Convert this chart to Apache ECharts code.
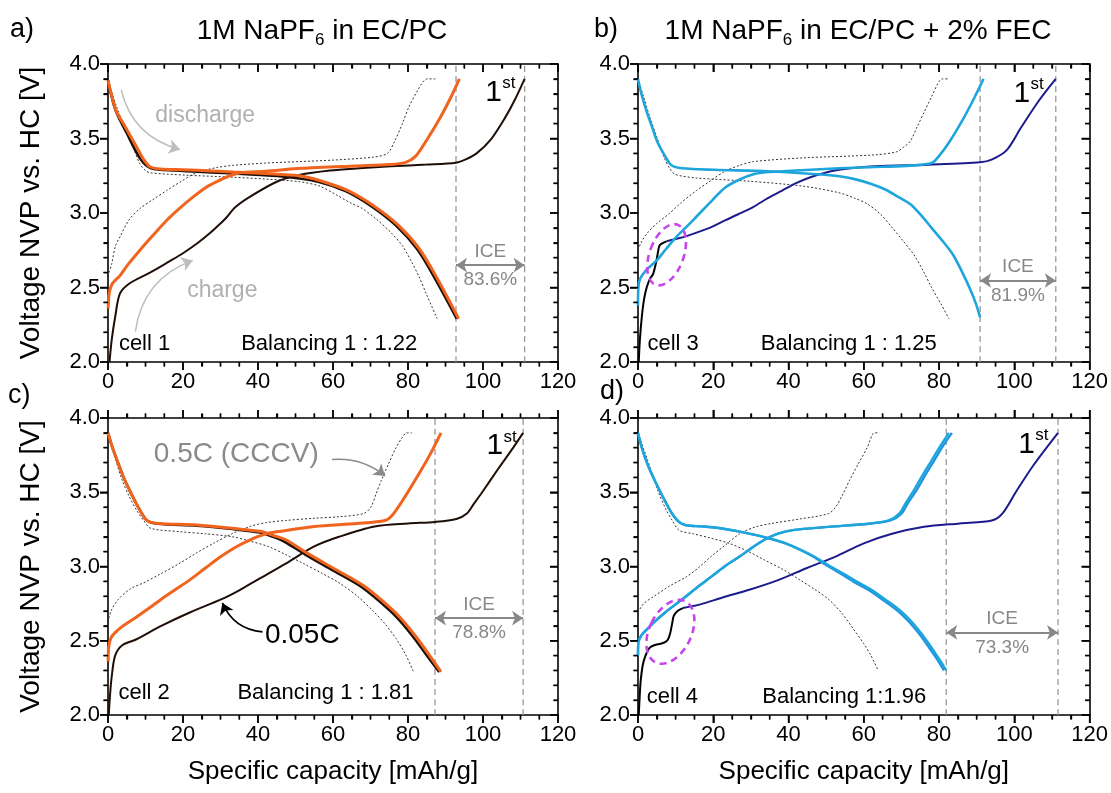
<!DOCTYPE html>
<html><head><meta charset="utf-8">
<script src="https://cdn.jsdelivr.net/npm/echarts/dist/echarts.min.js"></script>
<style>html,body{margin:0;padding:0;background:#fff}#main{width:1111px;height:793px}</style>
</head><body><div id="main"></div><script>
// ---------- axis ticks ----------
const xTicks = [0, 20, 40, 60, 80, 100, 120];
const yTicks = [2.0, 2.5, 3.0, 3.5, 4.0];
const xMinorTicks = [5, 10, 15, 25, 30, 35, 45, 50, 55, 65, 70, 75, 85, 90, 95, 105, 110, 115];
const yMinorTicks = [2.1, 2.2, 2.3, 2.4, 2.6, 2.7, 2.8, 2.9, 3.1, 3.2, 3.3, 3.4, 3.6, 3.7, 3.8, 3.9];

// ---------- panel a (cell 1) ----------
const a_first_charge = [[0.4,2.0],[1,2.15],[1.9,2.30],[3.2,2.46],[5.9,2.53],[11.2,2.6],[16,2.67],[20,2.73],[24,2.8],[27.2,2.865],[30,2.93],[31.6,2.97],[34,3.04],[37.9,3.11],[45,3.21],[51,3.255],[59.2,3.285],[67,3.3],[75.4,3.313],[85,3.325],[92.8,3.338],[95.4,3.36],[98.3,3.40],[102,3.49],[105.9,3.64],[108.5,3.76],[111.1,3.9]];
const a_first_discharge = [[0,3.89],[2,3.69],[4.9,3.54],[8.7,3.36],[11.5,3.3],[18,3.285],[27.5,3.272],[37,3.26],[46.5,3.245],[56,3.21],[63.5,3.145],[70.2,3.045],[76.8,2.915],[82.5,2.755],[87.3,2.555],[93,2.29]];
const a_charge = [[0.05,2.36],[0.3,2.46],[1,2.52],[2,2.55],[3.2,2.58],[5.5,2.66],[8.5,2.75],[12,2.85],[15.6,2.95],[19,3.03],[22.8,3.11],[26,3.17],[29,3.21],[32,3.245],[35.2,3.27],[42,3.28],[51.6,3.30],[65.9,3.316],[75,3.325],[79.2,3.338],[82,3.38],[85,3.49],[88.8,3.65],[91.5,3.78],[93.7,3.9]];
const a_discharge = [[0,3.89],[2.1,3.69],[4.1,3.6],[7.6,3.445],[9.5,3.36],[11.2,3.31],[14,3.295],[20,3.29],[27.8,3.282],[33.4,3.275],[42,3.265],[51,3.25],[56.4,3.218],[64,3.15],[70.7,3.05],[77.3,2.92],[83,2.76],[87.8,2.56],[93.5,2.29]];
const a_ref_charge = [[0.3,2.6],[1,2.66],[2,2.78],[3.2,2.84],[5.5,2.95],[8.5,3.03],[12,3.09],[15.6,3.15],[20,3.22],[23.6,3.27],[29,3.305],[33.4,3.32],[42,3.335],[51,3.345],[60,3.355],[70.7,3.375],[74.5,3.40],[76.4,3.48],[78.5,3.6],[80.2,3.71],[82.5,3.82],[84,3.88],[85,3.9],[87.3,3.9]];
const a_ref_discharge = [[0,3.89],[2.2,3.72],[5,3.54],[7,3.42],[8.5,3.33],[10,3.285],[11.2,3.27],[20,3.255],[33.4,3.24],[42,3.228],[51,3.21],[56.5,3.18],[61,3.12],[64.5,3.07],[67.8,3.03],[71.5,2.96],[75.4,2.87],[78.5,2.78],[81,2.67],[83,2.57],[85,2.45],[87.8,2.29]];

// ---------- panel b (cell 3) ----------
const b_first_start = [[0.2,2.0],[0.5,2.15],[1,2.30],[1.6,2.42],[2.3,2.50],[3.2,2.56],[4,2.59],[4.9,2.68],[5.4,2.75],[5.8,2.785],[7.6,2.81]];
const b_first_charge = [[7.6,2.81],[10.8,2.83],[12.9,2.845],[17.4,2.885],[19.9,2.91],[23.1,2.95],[26.5,2.99],[30.6,3.04],[34.5,3.1],[38.3,3.15],[42,3.2],[45.8,3.24],[50,3.272],[53.4,3.29],[62.9,3.313],[77.1,3.324],[90.9,3.34],[94.1,3.36],[97.9,3.42],[101.7,3.57],[106.4,3.75],[111,3.9]];
const b_charge = [[0,2.38],[0.1,2.5],[0.6,2.56],[2.3,2.62],[4.9,2.68],[7.5,2.76],[10.2,2.84],[13,2.91],[15.5,2.975],[19.9,3.09],[23.1,3.17],[27,3.225],[30.7,3.26],[34.5,3.275],[38.3,3.28],[53.4,3.30],[65,3.31],[72.3,3.318],[78,3.335],[79.9,3.38],[82.8,3.48],[86.6,3.64],[89.5,3.78],[91.8,3.9]];
const b_discharge = [[0,3.9],[1,3.79],[2.3,3.68],[3.7,3.58],[5.1,3.48],[7,3.39],[8.9,3.32],[11.7,3.30],[20.3,3.29],[34.5,3.28],[48.7,3.258],[54,3.245],[58.1,3.224],[62,3.195],[65.7,3.158],[69,3.11],[72.3,3.06],[75.2,2.985],[78,2.90],[81,2.81],[83.7,2.72],[86.2,2.6],[88.4,2.48],[89.8,2.39],[90.9,2.30]];
const b_ref_charge = [[0,2.75],[0.8,2.8],[2.3,2.86],[5,2.93],[8,2.99],[11.5,3.07],[15.5,3.15],[19.5,3.22],[23.1,3.28],[27,3.32],[30.7,3.345],[43.9,3.37],[62.9,3.39],[68.6,3.41],[70.5,3.44],[72.3,3.48],[74.2,3.58],[76.1,3.68],[78,3.78],[79.9,3.88],[80.9,3.9],[82.6,3.9]];
const b_ref_discharge = [[0,3.9],[1.5,3.78],[3.2,3.64],[5,3.51],[7,3.37],[8.4,3.3],[9.8,3.26],[15.5,3.235],[29.7,3.213],[43.9,3.18],[53.4,3.136],[57.5,3.1],[61,3.06],[64.5,2.99],[67.6,2.90],[70.5,2.81],[73.3,2.72],[75.8,2.61],[78,2.50],[80.5,2.39],[82.6,2.29]];

// ---------- panel c (cell 2) ----------
const c_first_charge = [[0.2,2.0],[0.5,2.12],[0.95,2.25],[1.9,2.40],[3.8,2.47],[7.6,2.51],[14.2,2.60],[21.8,2.69],[30.3,2.78],[35,2.84],[39.8,2.91],[47.4,3.02],[55,3.135],[61.6,3.20],[71.1,3.27],[80,3.29],[87.2,3.30],[92.9,3.32],[95.7,3.357],[97.5,3.42],[99.5,3.49],[104.3,3.667],[107.5,3.78],[110.7,3.9]];
const c_first_discharge = [[0,3.9],[1.2,3.8],[2.8,3.69],[4.5,3.58],[6.6,3.47],[8.5,3.38],[10.4,3.31],[13.3,3.288],[23.7,3.275],[33.2,3.252],[40.5,3.228],[44,3.2],[47,3.168],[52.6,3.08],[60.2,2.97],[67.7,2.86],[75.3,2.70],[78.5,2.615],[82,2.505],[85,2.40],[88.3,2.29]];
const c_charge = [[0.05,2.36],[0.2,2.46],[0.8,2.52],[1.9,2.555],[4,2.6],[7.6,2.66],[11,2.72],[14.2,2.78],[18,2.845],[21.8,2.91],[26,2.99],[30.3,3.07],[34,3.13],[37.9,3.18],[41.5,3.215],[45.5,3.235],[55,3.27],[66.4,3.29],[73.9,3.31],[75.8,3.345],[78.7,3.45],[83.4,3.645],[86,3.76],[88.8,3.9]];
const c_discharge = [[0,3.9],[1.2,3.8],[2.8,3.69],[4.5,3.58],[6.6,3.47],[8.5,3.38],[10.4,3.31],[13.3,3.29],[23.7,3.28],[33.2,3.257],[40.8,3.235],[44,3.21],[47.4,3.18],[53.1,3.09],[60.7,2.98],[68.2,2.87],[75.8,2.71],[79,2.625],[82.5,2.515],[85.5,2.41],[88.8,2.29]];
const c_ref_charge = [[0,2.625],[0.8,2.7],[2.8,2.78],[6,2.85],[9.5,2.89],[14,2.95],[19,3.02],[23.5,3.09],[28.4,3.16],[33,3.22],[37.9,3.27],[42,3.295],[47.4,3.31],[55,3.325],[61.6,3.335],[68.2,3.357],[70.1,3.40],[71.5,3.49],[72.9,3.58],[74.8,3.69],[76.8,3.80],[78.5,3.87],[79.6,3.9],[81,3.9]];
const c_ref_discharge = [[0,3.9],[1.8,3.74],[3.8,3.58],[5.7,3.47],[7.6,3.38],[9.5,3.31],[11.4,3.257],[19,3.235],[26,3.22],[33.2,3.20],[38,3.17],[42.7,3.135],[47.4,3.08],[52.1,3.02],[57,2.955],[61.6,2.89],[66.5,2.8],[71.1,2.69],[74,2.61],[76.8,2.515],[79.3,2.41],[81.5,2.29]];

// ---------- panel d (cell 4) ----------
const d_first_start = [[0.2,2.0],[0.5,2.15],[0.75,2.24],[1.3,2.34],[2,2.40],[3,2.45],[4.3,2.47],[6,2.48],[7.2,2.49],[8,2.51],[8.6,2.556],[9.1,2.62],[9.5,2.667],[10.5,2.70],[11.9,2.72]];
const d_first_charge = [[11.9,2.72],[16.6,2.745],[22.3,2.79],[29.8,2.845],[37.4,2.91],[44.9,2.99],[52.5,3.067],[60,3.156],[67.5,3.22],[76,3.267],[85.5,3.29],[94,3.31],[96.8,3.356],[100.6,3.51],[105.3,3.69],[111.6,3.9]];
const d_charge = [[0,2.40],[0.1,2.49],[1,2.54],[2.5,2.58],[4.5,2.63],[7.2,2.69],[10,2.745],[12.8,2.80],[16,2.865],[19.4,2.93],[23,3.0],[27,3.067],[30.5,3.13],[33.6,3.18],[37,3.22],[41.1,3.245],[50.6,3.267],[61.9,3.29],[66.6,3.31],[69.4,3.356],[71.2,3.43],[73.2,3.51],[75.5,3.61],[77.9,3.71],[80.3,3.81],[82.6,3.9]];
const d_charge2 = [[0,2.40],[0.1,2.49],[1,2.54],[2.5,2.58],[4.5,2.63],[7.2,2.69],[10,2.745],[12.8,2.80],[16,2.865],[19.4,2.93],[23,3.0],[27,3.067],[30.5,3.13],[33.6,3.18],[37,3.22],[41.1,3.245],[50.6,3.267],[61.9,3.29],[67.1,3.31],[70,3.356],[71.8,3.43],[73.9,3.51],[76.2,3.61],[78.6,3.71],[81,3.81],[83.4,3.9]];
const d_discharge = [[0,3.9],[1,3.8],[2.5,3.69],[4.8,3.56],[7.2,3.44],[9.2,3.35],[10.9,3.30],[12.8,3.278],[17,3.27],[22.3,3.256],[27,3.235],[31.7,3.21],[35.5,3.185],[39.2,3.156],[43,3.115],[46.8,3.067],[50.5,3.01],[54.3,2.956],[58,2.9],[61.9,2.845],[65.6,2.78],[69.4,2.71],[72.3,2.64],[75.1,2.556],[77,2.49],[78.9,2.42],[80.5,2.36],[81.9,2.3]];
const d_discharge2 = [[0,3.9],[1,3.8],[2.5,3.69],[4.8,3.56],[7.2,3.44],[9.2,3.35],[10.9,3.30],[12.8,3.278],[17,3.27],[22.3,3.256],[27,3.235],[31.7,3.21],[35.5,3.185],[39.2,3.156],[43,3.113],[46.7,3.064],[50.3,3.005],[54,2.95],[57.6,2.893],[61.5,2.838],[65.2,2.773],[68.9,2.703],[71.8,2.633],[74.6,2.55],[76.5,2.485],[78.4,2.415],[80,2.355],[81.3,2.3]];
const d_ref_charge = [[0,2.69],[1.5,2.75],[4.3,2.80],[8.5,2.87],[12.8,2.93],[16,2.99],[19.4,3.067],[23,3.14],[27,3.22],[31,3.265],[35.5,3.29],[43,3.32],[50.6,3.356],[52.5,3.40],[54.3,3.48],[56.2,3.58],[58.5,3.69],[60.9,3.80],[62.8,3.9],[64.2,3.9]];
const d_ref_discharge = [[0,3.9],[2.5,3.72],[5.3,3.51],[7.5,3.38],[9.1,3.31],[10.9,3.244],[14.7,3.22],[19.5,3.19],[24.2,3.156],[29,3.105],[33.6,3.044],[38.5,2.98],[43,2.91],[47,2.845],[50.6,2.78],[54,2.69],[57.2,2.58],[60,2.48],[61.9,2.40],[63.8,2.3]];

// ---------- ICE markers: [left capacity, right capacity, arrow voltage, label] ----------
const iceMarks = [[92.8, 111.1, 2.65, '83.6%'], [90.9, 111.0, 2.547, '81.9%'], [87.2, 110.7, 2.652, '78.8%'], [81.9, 111.6, 2.556, '73.3%']];
const cellNames = ['cell 1', 'cell 3', 'cell 2', 'cell 4'];
const balancing = ['Balancing 1 : 1.22', 'Balancing 1 : 1.25', 'Balancing 1 : 1.81', 'Balancing 1:1.96'];
const balancingX = [59, 56, 58, 54.8];
const cellX = [2.9, 2.5, 2.8, 2.3];
const textV = [2.12, 2.12, 2.15, 2.12];
const firstLabel = [[100.6, 3.81], [99.8, 3.80], [100.9, 3.81], [101, 3.82]];

const FONT = '"Liberation Sans", Arial, sans-serif';
const ORANGE = '#f0641e', DARK = '#1e0e06', NAVY = '#1b1b8c', CYAN = '#1ea6dc', BLUE2 = '#2196e0';
const MAJOR_LEN = 8, MINOR_LEN = 4.5;

const chart = echarts.init(document.getElementById('main'));

const grids = [
  {left: 108, top: 64, width: 450, height: 298},
  {left: 638, top: 64, width: 454, height: 298},
  {left: 108, top: 418, width: 450, height: 297},
  {left: 638, top: 418, width: 454, height: 297}
];

const xAxes = [], yAxes = [];
function axLine() { return {show: true, onZero: false, lineStyle: {color: '#000', width: 1.6}}; }
function tick(inside) { return {show: true, inside: inside, length: MAJOR_LEN, lineStyle: {color: '#000', width: 1.5}}; }
function minor(n) { return {show: true, splitNumber: n, length: MINOR_LEN, lineStyle: {color: '#000', width: 1.3}}; }
for (let g = 0; g < 4; g++) {
  xAxes.push({
    type: 'value', gridIndex: g, min: 0, max: 120, interval: 20, position: 'bottom',
    axisLine: axLine(), axisTick: tick(false), minorTick: minor(4), splitLine: {show: false},
    axisLabel: {show: true, fontSize: 22, color: '#000', fontFamily: FONT, margin: 9,
      formatter: v => (xTicks.indexOf(v) >= 0 ? String(v) : '')},
    name: g >= 2 ? 'Specific capacity [mAh/g]' : '', nameLocation: 'middle', nameGap: 44,
    nameTextStyle: {fontSize: 26, color: '#000', fontFamily: FONT}
  });
  xAxes.push({
    type: 'value', gridIndex: g, min: 0, max: 120, interval: 20, position: 'top',
    axisLine: axLine(), axisTick: tick(g < 2), minorTick: minor(4), splitLine: {show: false},
    axisLabel: {show: false}
  });
  yAxes.push({
    type: 'value', gridIndex: g, min: 2, max: 4, interval: 0.5, position: 'left',
    axisLine: axLine(), axisTick: tick(false), minorTick: minor(5), splitLine: {show: false},
    axisLabel: {show: true, fontSize: 22, color: '#000', fontFamily: FONT, margin: 8,
      formatter: v => (yTicks.indexOf(v) >= 0 ? v.toFixed(1) : '')},
    name: (g === 0 || g === 2) ? 'Voltage NVP vs. HC [V]' : '', nameLocation: 'middle', nameGap: 63,
    nameTextStyle: {fontSize: 28, color: '#000', fontFamily: FONT}
  });
  yAxes.push({
    type: 'value', gridIndex: g, min: 2, max: 4, interval: 0.5, position: 'right',
    axisLine: axLine(), axisTick: tick(true), minorTick: minor(5), splitLine: {show: false},
    axisLabel: {show: false}
  });
}

const series = [];
function addLine(g, data, color, width, type, z) {
  series.push({type: 'line', xAxisIndex: 2 * g, yAxisIndex: 2 * g, data: data, showSymbol: false, symbol: 'none',
    smooth: type === 'straight' ? false : 0.3, silent: true, animation: false, z: z || 2,
    lineStyle: {color: color, width: width, type: (type === 'straight' || !type) ? 'solid' : type}});
}
function addArrow(g, from, to, color, curv, both, width) {
  series.push({type: 'lines', coordinateSystem: 'cartesian2d', xAxisIndex: 2 * g, yAxisIndex: 2 * g,
    silent: true, animation: false, z: 5,
    symbol: [both ? 'arrow' : 'none', 'arrow'], symbolSize: 11,
    lineStyle: {color: color, width: width || 1.5, curveness: curv, opacity: 1},
    data: [{coords: [from, to]}]});
}
// plain text anchored in data space, optional pixel nudge (dx, dy)
function addText(g, x, y, text, size, color, align, dx, dy) {
  series.push({type: 'custom', coordinateSystem: 'cartesian2d', xAxisIndex: 2 * g, yAxisIndex: 2 * g,
    silent: true, animation: false, z: 20, clip: false, data: [[x, y]],
    renderItem: function (params, api) {
      const p = api.coord([api.value(0), api.value(1)]);
      return {type: 'text', x: p[0] + (dx || 0), y: p[1] + (dy || 0),
        style: {text: text, fontSize: size, fill: color, fontFamily: FONT, align: align || 'left', verticalAlign: 'middle'}};
    }});
}
function addEllipse(g, x, y, rx, ry, rot) {
  series.push({type: 'custom', coordinateSystem: 'cartesian2d', xAxisIndex: 2 * g, yAxisIndex: 2 * g,
    silent: true, animation: false, z: 21, clip: false, data: [[x, y]],
    renderItem: function (params, api) {
      const p = api.coord([api.value(0), api.value(1)]);
      return {type: 'ellipse', x: p[0], y: p[1], rotation: rot, shape: {cx: 0, cy: 0, rx: rx, ry: ry},
        style: {fill: 'none', stroke: '#c844ec', lineWidth: 2.6, lineDash: [7, 5]}};
    }});
}
// framed-box tick marks as small filled bars placed through the axis scales
function addTickBars(g, side, vals, len) {
  const w = 1.5;
  const topIn = g < 2;
  const data = vals.map(v => side === 'bottom' ? [v, 2] : side === 'top' ? [v, 4] : side === 'left' ? [0, v] : [120, v]);
  series.push({type: 'custom', coordinateSystem: 'cartesian2d', xAxisIndex: 2 * g, yAxisIndex: 2 * g,
    silent: true, animation: false, z: 30, clip: false, data: data,
    renderItem: function (params, api) {
      const p = api.coord([api.value(0), api.value(1)]);
      let shape;
      if (side === 'bottom') shape = {x: p[0] - w / 2, y: p[1], width: w, height: len};
      else if (side === 'top') shape = {x: p[0] - w / 2, y: topIn ? p[1] : p[1] - len, width: w, height: len};
      else if (side === 'left') shape = {x: p[0] - len, y: p[1] - w / 2, width: len, height: w};
      else shape = {x: p[0] - len, y: p[1] - w / 2, width: len, height: w};
      return {type: 'rect', shape: shape, style: {fill: '#000'}};
    }});
}
const DOT = [2, 2];
// a
addLine(0, a_ref_charge, '#333', 1, DOT, 1); addLine(0, a_ref_discharge, '#333', 1, DOT, 1);
addLine(0, a_first_charge, DARK, 2, null, 2); addLine(0, a_first_discharge, DARK, 2.5, null, 2);
addLine(0, a_charge, ORANGE, 3, null, 3); addLine(0, a_discharge, ORANGE, 3, null, 3);
// b
addLine(1, b_ref_charge, '#333', 1, DOT, 1); addLine(1, b_ref_discharge, '#333', 1, DOT, 1);
addLine(1, b_first_start, '#000', 2, null, 2); addLine(1, b_first_charge, NAVY, 2, null, 2);
addLine(1, b_charge, CYAN, 2.6, null, 3); addLine(1, b_discharge, CYAN, 2.6, null, 3);
// c
addLine(2, c_ref_charge, '#333', 1, DOT, 1); addLine(2, c_ref_discharge, '#333', 1, DOT, 1);
addLine(2, c_first_charge, DARK, 2, null, 2); addLine(2, c_first_discharge, DARK, 2.5, null, 2);
addLine(2, c_charge, ORANGE, 3, null, 3); addLine(2, c_discharge, ORANGE, 3, null, 3);
// d
addLine(3, d_ref_charge, '#333', 1, DOT, 1); addLine(3, d_ref_discharge, '#333', 1, DOT, 1);
addLine(3, d_first_start, '#000', 2, null, 2); addLine(3, d_first_charge, NAVY, 2, null, 2);
addLine(3, d_charge2, BLUE2, 2.4, null, 3); addLine(3, d_discharge2, BLUE2, 2.4, null, 3);
addLine(3, d_charge, CYAN, 2.4, null, 3); addLine(3, d_discharge, CYAN, 2.4, null, 3);

iceMarks.forEach((m, g) => {
  addLine(g, [[m[0], 2], [m[0], 4]], '#999', 1.3, [6, 4], 1);
  addLine(g, [[m[1], 2], [m[1], 4]], '#999', 1.3, [6, 4], 1);
  addArrow(g, [m[0], m[2]], [m[1], m[2]], '#888', 0, true, 1.8);
  const cx = (m[0] + m[1]) / 2;
  addText(g, cx, m[2] + 0.092, 'ICE', 19, '#888', 'center');
  addText(g, cx, m[2] - 0.1, m[3], 19, '#888', 'center');
  addText(g, cellX[g], textV[g], cellNames[g], 22, '#000', 'left');
  addText(g, balancingX[g], textV[g], balancing[g], 22, '#000', 'center');
  addText(g, firstLabel[g][0], firstLabel[g][1], '1', 30, '#000', 'left');
  addText(g, firstLabel[g][0], firstLabel[g][1], 'st', 17, '#000', 'left', 17, -9);
  ['bottom', 'top'].forEach(s => { addTickBars(g, s, xTicks, MAJOR_LEN); addTickBars(g, s, xMinorTicks, MINOR_LEN); });
  ['left', 'right'].forEach(s => { addTickBars(g, s, yTicks, MAJOR_LEN); addTickBars(g, s, yMinorTicks, MINOR_LEN); });
});
addArrow(0, [3.5, 3.827], [19.2, 3.427], '#bdbdbd', -0.3, false, 1.5);
addArrow(0, [7.3, 2.204], [22.6, 2.682], '#bdbdbd', 0.3, false, 1.5);
addArrow(2, [59.7, 3.72], [73.9, 3.61], '#8a8a8a', 0.2, false, 1.5);
addArrow(2, [41.2, 2.56], [30.5, 2.755], '#000', 0.3, false, 1.6);
addText(0, 12.6, 3.65, 'discharge', 23, '#b0b0b0', 'left');
addText(0, 21.1, 2.48, 'charge', 23, '#b0b0b0', 'left');
addText(2, 34.2, 3.756, '0.5C (CCCV)', 28, '#8a8a8a', 'center');
addText(2, 51.8, 2.537, '0.05C', 28, '#000', 'center');
addEllipse(1, 7.6, 2.72, 17, 32, -0.35);
addEllipse(3, 8.6, 2.56, 21, 34, -0.45);

// panel letters and titles (plain text pieces; subscript placed after measuring)
const measureCtx = document.createElement('canvas').getContext('2d');
function textW(t, size) { measureCtx.font = size + 'px ' + FONT; return measureCtx.measureText(t).width; }
const graphics = [
  {type: 'text', x: 10, y: 16, silent: true, style: {text: 'a)', fontSize: 27, fontFamily: FONT, fill: '#000'}},
  {type: 'text', x: 594, y: 16, silent: true, style: {text: 'b)', fontSize: 27, fontFamily: FONT, fill: '#000'}},
  {type: 'text', x: 8, y: 382, silent: true, style: {text: 'c)', fontSize: 27, fontFamily: FONT, fill: '#000'}},
  {type: 'text', x: 600, y: 378, silent: true, style: {text: 'd)', fontSize: 27, fontFamily: FONT, fill: '#000'}}
];
[[322, ' in EC/PC'], [858, ' in EC/PC + 2% FEC']].forEach(t => {
  const w1 = textW('1M NaPF', 28), w2 = textW('6', 17), w3 = textW(t[1], 28);
  const x0 = t[0] - (w1 + w2 + w3) / 2;
  graphics.push({type: 'text', x: x0, y: 17, silent: true, style: {text: '1M NaPF', fontSize: 28, fontFamily: FONT, fill: '#000'}});
  graphics.push({type: 'text', x: x0 + w1, y: 32, silent: true, style: {text: '6', fontSize: 17, fontFamily: FONT, fill: '#000'}});
  graphics.push({type: 'text', x: x0 + w1 + w2, y: 17, silent: true, style: {text: t[1], fontSize: 28, fontFamily: FONT, fill: '#000'}});
});

chart.setOption({
  animation: false,
  grid: grids, xAxis: xAxes, yAxis: yAxes, series: series, graphic: graphics
});
</script></body></html>
